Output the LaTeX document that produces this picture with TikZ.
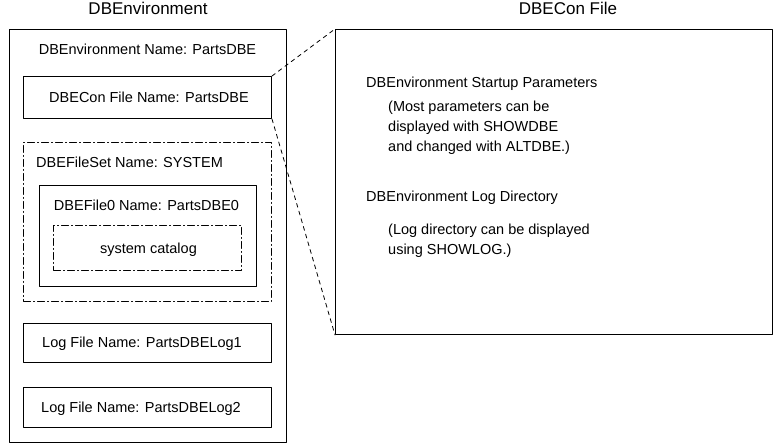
\documentclass[tikz,border=0pt]{standalone}
\usepackage{fontspec}
\setmainfont{Liberation Sans}

\begin{document}
\begin{tikzpicture}[line cap=round,line join=round,x=1pt,y=-1pt,
  box/.style={draw,line width=1.pt,inner sep=0pt,anchor=north west},
  dashbox/.style={box,dash pattern=on 7pt off 3pt on 1pt off 3pt},
  lbl/.style={inner sep=0pt,font=\fontsize{14.5}{20}\selectfont},
  ttl/.style={inner sep=0pt,font=\fontsize{17}{20}\selectfont},
  link/.style={line width=0.8pt,dash pattern=on 4pt off 4pt}]
\useasboundingbox (0,0) rectangle (780,443);

% DBEnvironment side
\node[ttl,anchor=base] (envtitle) at (148,14.5) {DBEnvironment};
\node[box,minimum width=277pt,minimum height=413pt] (env) at (9,29) {};
\node[lbl,anchor=base] (envname) at (147.5,55) {DBEnvironment Name: PartsDBE};

\node[box,minimum width=248pt,minimum height=42pt] (dbecon) at (23,76) {};
\node[lbl,anchor=base] (dbeconname) at (149,103) {DBECon File Name: PartsDBE};

\node[dashbox,minimum width=248pt,minimum height=159pt] (fileset) at (23,142) {};
\node[lbl,anchor=base west] (filesetname) at (36,168) {DBEFileSet Name: SYSTEM};

\node[box,minimum width=217pt,minimum height=101pt] (file0) at (39,185) {};
\node[lbl,anchor=base] (file0name) at (146.5,210.5) {DBEFile0 Name: PartsDBE0};

\node[dashbox,minimum width=188pt,minimum height=45pt] (catalog) at (53,225) {};
\node[lbl,anchor=base] (catalogname) at (148.5,254) {system catalog};

\node[box,minimum width=248pt,minimum height=39pt] (log1) at (23,323) {};
\node[lbl,anchor=base] (log1name) at (142,348) {Log File Name: PartsDBELog1};

\node[box,minimum width=248pt,minimum height=40pt] (log2) at (23,387) {};
\node[lbl,anchor=base] (log2name) at (141,413) {Log File Name: PartsDBELog2};

% DBECon file side
\node[ttl,anchor=base] (contitle) at (568,14.5) {DBECon File};
\node[box,minimum width=437pt,minimum height=305pt] (confile) at (335,29) {};
\node[lbl,anchor=base west] (startup) at (366,88) {DBEnvironment Startup Parameters};
\node[lbl,anchor=base west] (startup1) at (388,112) {(Most parameters can be};
\node[lbl,anchor=base west] (startup2) at (388,132) {displayed with SHOWDBE};
\node[lbl,anchor=base west] (startup3) at (388,152) {and changed with ALTDBE.)};
\node[lbl,anchor=base west] (logdir) at (366,202) {DBEnvironment Log Directory};
\node[lbl,anchor=base west] (logdir1) at (388,235) {(Log directory can be displayed};
\node[lbl,anchor=base west] (logdir2) at (388,255) {using SHOWLOG.)};

\draw[link] (dbecon.north east) -- (confile.north west);
\draw[link] (dbecon.south east) -- (confile.south west);
\end{tikzpicture}
\end{document}
